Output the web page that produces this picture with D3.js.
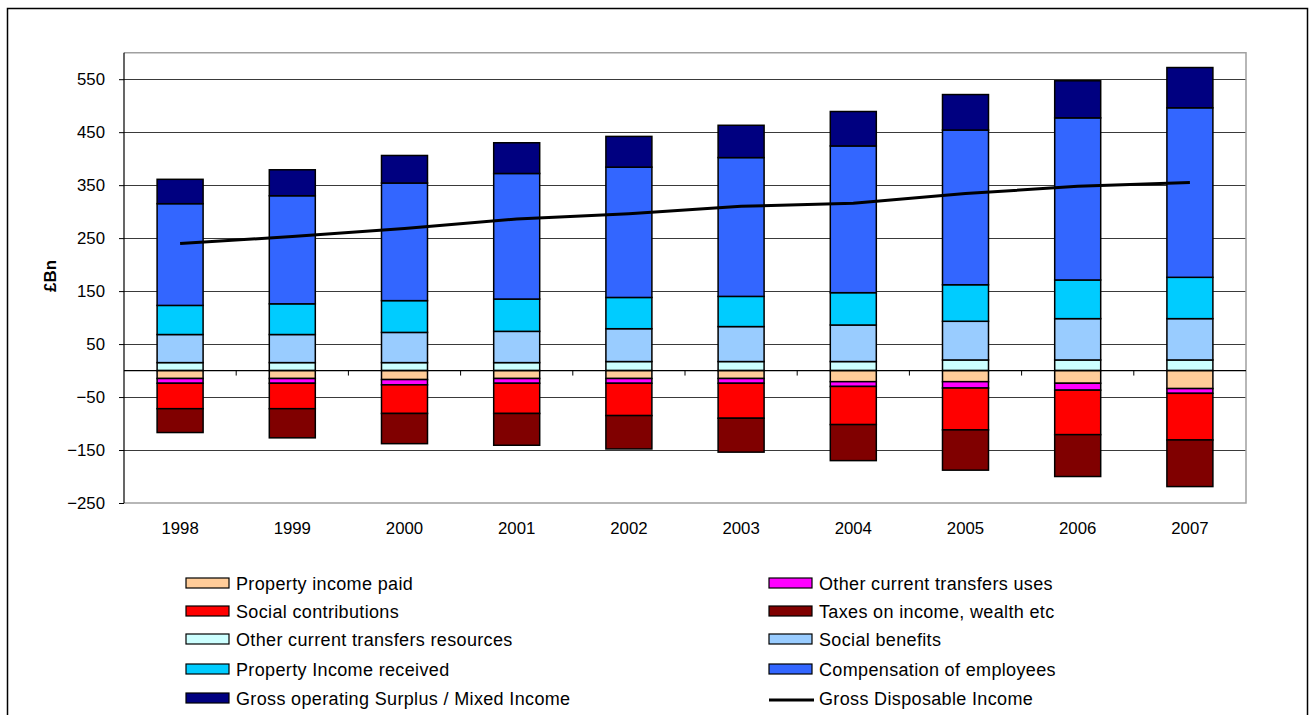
<!DOCTYPE html>
<html>
<head>
<meta charset="utf-8">
<script src="https://cdn.jsdelivr.net/npm/d3@7"></script>
<style>
  html, body { margin: 0; padding: 0; background: #fff; }
  svg { display: block; font-family: "Liberation Sans", Arial, sans-serif; }
</style>
</head>
<body>
<svg id="chart" width="1313" height="715"></svg>
<script>
// ---------- DATA ----------
const years = ["1998","1999","2000","2001","2002","2003","2004","2005","2006","2007"];
const otherTransfersResources = [15, 15, 15, 15, 17, 17, 17, 20, 20, 20];
const socialBenefits          = [53, 53, 57, 59, 62, 66, 69, 73, 78, 78];
const propertyIncomeReceived  = [55, 58, 60, 61, 59, 57, 61, 69, 73, 78];
const compensationEmployees   = [192, 204, 222, 237, 246, 262, 277, 292, 306, 320];
const grossOperatingSurplus   = [46, 49, 52, 58, 58, 61, 65, 67, 70, 76];
const propertyIncomePaid      = [-15, -15, -17, -15, -15, -15, -21, -21, -24, -34];
const otherTransfersUses      = [-9, -9, -10, -9, -9, -9, -9, -12, -13, -9];
const socialContributions     = [-48, -48, -54, -57, -61, -66, -72, -79, -84, -88];
const taxesIncomeWealth       = [-45, -55, -57, -60, -63, -64, -68, -76, -79, -88];
const grossDisposableIncome   = [240, 253, 268, 286, 296, 310, 316, 334, 348, 355];
const yTickValues = [-250, -150, -50, 50, 150, 250, 350, 450, 550];

const seriesDefs = [
  { key: "octr", name: "Other current transfers resources", values: otherTransfersResources, color: "#CCFFFF" },
  { key: "sb",   name: "Social benefits", values: socialBenefits, color: "#99CCFF" },
  { key: "pir",  name: "Property Income received", values: propertyIncomeReceived, color: "#00CCFF" },
  { key: "coe",  name: "Compensation of employees", values: compensationEmployees, color: "#3366FF" },
  { key: "gos",  name: "Gross operating Surplus / Mixed Income", values: grossOperatingSurplus, color: "#000080" },
  { key: "pip",  name: "Property income paid", values: propertyIncomePaid, color: "#FFCC99" },
  { key: "octu", name: "Other current transfers uses", values: otherTransfersUses, color: "#FF00FF" },
  { key: "sc",   name: "Social contributions", values: socialContributions, color: "#FF0000" },
  { key: "tax",  name: "Taxes on income, wealth etc", values: taxesIncomeWealth, color: "#800000" }
];

// legend order (two columns, row-wise)
const legendOrder = [
  ["pip", "octu"],
  ["sc", "tax"],
  ["octr", "sb"],
  ["pir", "coe"],
  ["gos", "gdi"]
];

// ---------- LAYOUT ----------
const svg = d3.select("#chart");
const plot = { left: 124, right: 1246, top: 52.7, bottom: 503 };
const axisFont = 16.8;
const legendFont = 18;

// outer frame
svg.append("rect")
  .attr("x", 7.5).attr("y", 8.5)
  .attr("width", 1300).attr("height", 720)
  .attr("fill", "none").attr("stroke", "#000").attr("stroke-width", 1.5);

const x = d3.scaleBand().domain(years).range([plot.left, plot.right]).padding(0);
const barW = x.bandwidth() * 0.41;
const y = d3.scaleLinear().domain([-250, 600]).range([plot.bottom, plot.top]);

// gridlines
svg.append("g").selectAll("line")
  .data(yTickValues.filter(v => v !== -250))
  .join("line")
  .attr("x1", plot.left).attr("x2", plot.right)
  .attr("y1", d => Math.round(y(d)) + 0.5).attr("y2", d => Math.round(y(d)) + 0.5)
  .attr("stroke", "#3a3a3a").attr("stroke-width", 1);

// plot border (gray top/right/bottom)
svg.append("path")
  .attr("d", `M${plot.left},${plot.top}H${plot.right}V${plot.bottom}H${plot.left}`)
  .attr("fill", "none").attr("stroke", "#a0a0a0").attr("stroke-width", 1.5);

// y axis
const yAxis = d3.axisLeft(y).tickValues(yTickValues).tickSize(5).tickPadding(14).tickFormat(d3.format("d"));
const yg = svg.append("g").attr("transform", `translate(${plot.left},0)`).call(yAxis);
yg.select(".domain").attr("stroke", "#000").attr("stroke-width", 1.2)
  .attr("d", `M0,${plot.top}V${plot.bottom}`);
yg.selectAll(".tick line").attr("stroke", "#000");
yg.selectAll(".tick text").attr("font-size", axisFont).attr("fill", "#000")
  .attr("font-family", "'Liberation Sans', Arial, sans-serif");

// y label
svg.append("text")
  .attr("transform", `translate(56,276) rotate(-90)`)
  .attr("text-anchor", "middle")
  .attr("font-size", 17).attr("font-weight", "bold")
  .text("£Bn");

// stacked bars
const table = years.map((yr, i) => {
  const row = { year: yr };
  seriesDefs.forEach(s => row[s.key] = s.values[i]);
  return row;
});
const stack = d3.stack().keys(seriesDefs.map(s => s.key)).offset(d3.stackOffsetDiverging);
const stacked = stack(table);

const barsG = svg.append("g");
stacked.forEach((layer, li) => {
  const def = seriesDefs[li];
  barsG.append("g").selectAll("rect")
    .data(layer)
    .join("rect")
    .attr("x", d => x(d.data.year) + (x.bandwidth() - barW) / 2)
    .attr("y", d => y(Math.max(d[0], d[1])))
    .attr("width", barW)
    .attr("height", d => Math.abs(y(d[0]) - y(d[1])))
    .attr("fill", def.color)
    .attr("stroke", "#000").attr("stroke-width", 1.5);
});

// zero (category) axis
const xAxis = d3.axisBottom(x).tickSize(0).tickFormat("");
const xg = svg.append("g").attr("transform", `translate(0,${y(0)})`).call(xAxis);
xg.select(".domain").attr("stroke", "#000").attr("stroke-width", 1.2)
  .attr("d", `M${plot.left},0H${plot.right}`);
// category boundary ticks
svg.append("g").selectAll("line")
  .data(years.slice(1))
  .join("line")
  .attr("x1", d => x(d)).attr("x2", d => x(d))
  .attr("y1", y(0)).attr("y2", y(0) + 5)
  .attr("stroke", "#000").attr("stroke-width", 1);

// category labels (low position)
svg.append("g").selectAll("text")
  .data(years)
  .join("text")
  .attr("x", d => x(d) + x.bandwidth() / 2)
  .attr("y", 534)
  .attr("text-anchor", "middle")
  .attr("font-size", axisFont)
  .text(d => d);

// GDI line
const line = d3.line()
  .x((d, i) => x(years[i]) + x.bandwidth() / 2)
  .y(d => y(d));
svg.append("path")
  .datum(grossDisposableIncome)
  .attr("d", line)
  .attr("fill", "none").attr("stroke", "#000").attr("stroke-width", 3);

// legend
const legendCols = [186, 769];
const legendRows = [583, 611, 639, 669, 698];
const lg = svg.append("g");
legendOrder.forEach((row, ri) => {
  row.forEach((key, ci) => {
    const lx = legendCols[ci], ly = legendRows[ri];
    let label;
    if (key === "gdi") {
      lg.append("line")
        .attr("x1", lx).attr("x2", lx + 45)
        .attr("y1", ly + 2).attr("y2", ly + 2)
        .attr("stroke", "#000").attr("stroke-width", 3);
      label = "Gross Disposable Income";
    } else {
      const def = seriesDefs.find(s => s.key === key);
      lg.append("rect")
        .attr("x", lx).attr("y", ly - 5)
        .attr("width", 43).attr("height", 10)
        .attr("fill", def.color).attr("stroke", "#000").attr("stroke-width", 1.2);
      label = def.name;
    }
    lg.append("text").attr("x", lx + 50).attr("y", ly + 6.5)
      .attr("font-size", legendFont).attr("letter-spacing", 0.35)
      .text(label);
  });
});
</script>
</body>
</html>
